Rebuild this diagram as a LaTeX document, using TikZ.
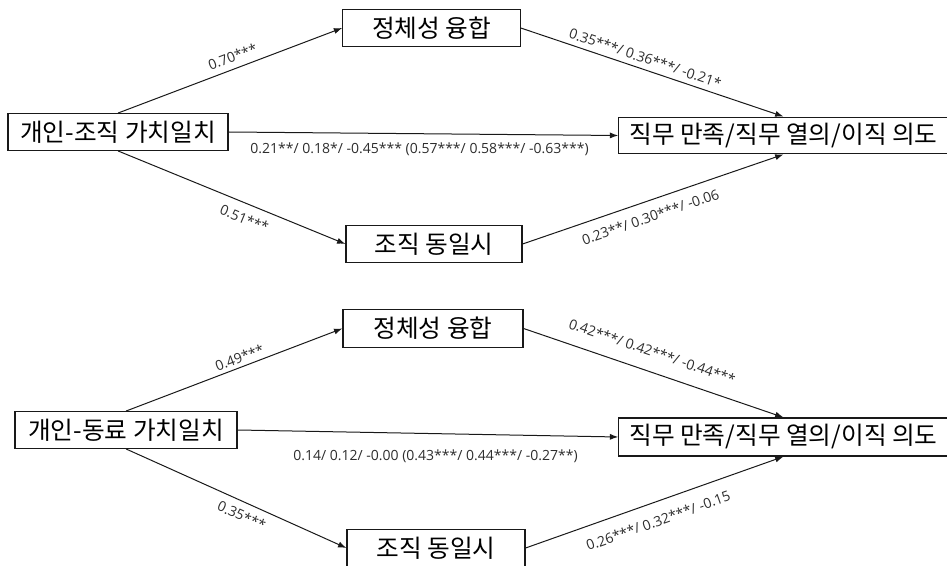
\documentclass[tikz,border=0pt]{standalone}
\usepackage{fontspec}
\setmainfont{Noto Sans CJK KR}
\newfontfamily\coeffont{Open Sans}
\usetikzlibrary{arrows.meta, positioning}
\definecolor{boxborder}{RGB}{25,25,25}
\definecolor{coeftext}{RGB}{45,45,45}
\tikzset{
    varbox/.style={rectangle, draw=boxborder, line width=0.9pt, minimum height=27.5pt,
        inner sep=1pt, align=center, font=\fontsize{18.5}{21}\selectfont},
    arrow/.style={-{Latex[length=2.2mm, width=1.6mm]}, line width=0.75pt, draw=boxborder},
    coef/.style={font=\coeffont\fontsize{10.5}{12}\selectfont, text=coeftext, inner sep=1.5pt}
}

\begin{document}
\begin{tikzpicture}[x=0.75pt, y=-0.75pt]
    \useasboundingbox (0,0) rectangle (947,566);

    % 개인-조직 가치일치
    \node[varbox, minimum width=165pt] (pog) at (118,132) {개인-조직 가치일치};
    \node[varbox, minimum width=133pt] (fusA) at (431.5,28) {정체성 융합};
    \node[varbox, minimum width=132pt] (ideA) at (434,244) {조직 동일시};
    \node[varbox, minimum width=247pt] (outA) at (783.5,135.5) {직무 만족/직무 열의/이직 의도};

    \draw[arrow] (pog.north) -- node[coef, sloped, above=3pt, pos=0.53] {0.70***} (fusA.west);
    \draw[arrow] (pog.south) -- node[coef, sloped, below=5pt, pos=0.58] {0.51***} (ideA.west);
    \draw[arrow] (pog.east) -- node[coef, below=5pt, pos=0.49] {0.21**/ 0.18*/ -0.45*** (0.57***/ 0.58***/ -0.63***)} (outA.west);
    \draw[arrow] (fusA.east) -- node[coef, sloped, above=2.5pt, pos=0.46] {0.35***/ 0.36***/ -0.21*} (outA.north);
    \draw[arrow] (ideA.east) -- node[coef, sloped, below=6pt, pos=0.47] {0.23**/ 0.30***/ -0.06} (outA.south);

    % 개인-동료 가치일치
    \node[varbox, minimum width=166.5pt] (pcg) at (126,430) {개인-동료 가치일치};
    \node[varbox, minimum width=135pt, minimum height=28pt] (fusB) at (433,328.5) {정체성 융합};
    \node[varbox, minimum width=133.5pt] (ideB) at (436,548) {조직 동일시};
    \node[varbox, minimum width=247pt, minimum height=28.5pt] (outB) at (783.5,437) {직무 만족/직무 열의/이직 의도};

    \draw[arrow] (pcg.north) -- node[coef, sloped, above=1pt, pos=0.54] {0.49***} (fusB.west);
    \draw[arrow] (pcg.south) -- node[coef, sloped, below=4pt, pos=0.55] {0.35***} (ideB.west);
    \draw[arrow] (pcg.east) -- node[coef, below=10.5pt, pos=0.52] {0.14/ 0.12/ -0.00 (0.43***/ 0.44***/ -0.27**)} (outB.west);
    \draw[arrow] (fusB.east) -- node[coef, sloped, above=9pt, pos=0.47] {0.42***/ 0.42***/ -0.44***} (outB.north);
    \draw[arrow] (ideB.east) -- node[coef, sloped, below=8pt, pos=0.49] {0.26***/ 0.32***/ -0.15} (outB.south);
\end{tikzpicture}
\end{document}
